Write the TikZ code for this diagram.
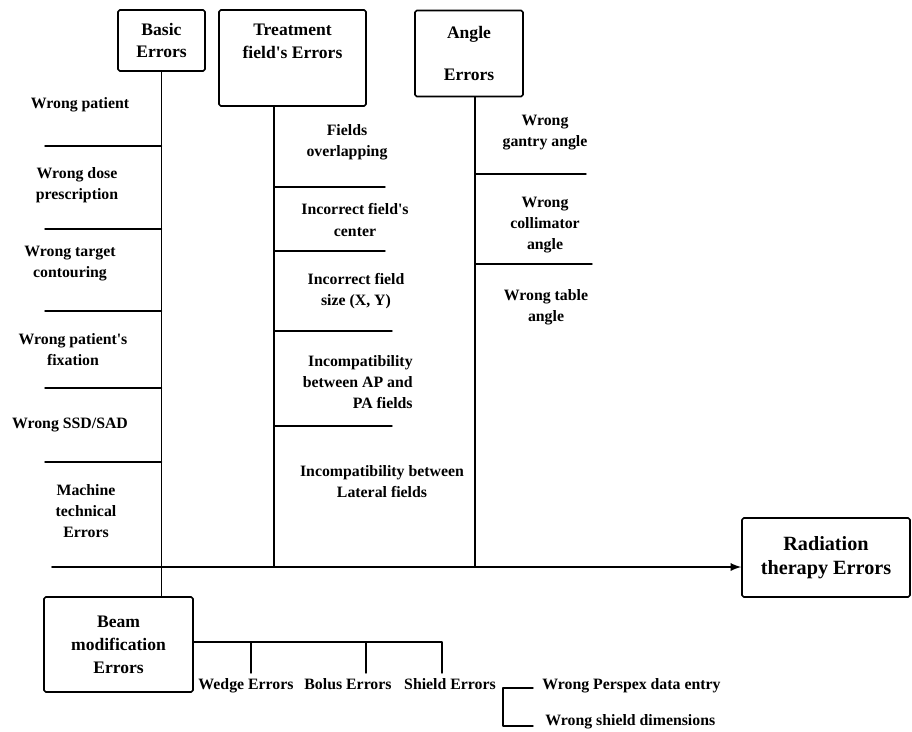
\documentclass[tikz,border=0pt]{standalone}
\usepackage{fontspec}
\setmainfont{Liberation Serif}
\begin{document}
\begin{tikzpicture}[x=0.02cm,y=-0.02cm,line join=round,line cap=round,>=stealth]
	\tikzset{every node/.style={inner sep=0pt,align=center},
		lbl/.style={font=\bfseries\fontsize{9}{12}\selectfont},
		box/.style={draw,line width=0.9pt,rounded corners=1pt,font=\bfseries\fontsize{10}{13}\selectfont},
		rib/.style={line width=0.8pt}}
	\useasboundingbox (0,0) rectangle (912,731);
	% category boxes
	\node[box,minimum width=1.74cm,minimum height=1.22cm] (be) at (161.5,40.5) {Basic\\Errors};
	\node[box,minimum width=2.94cm,minimum height=1.92cm] (tfe) at (292.5,58) {};
	\node[font=\bfseries\fontsize{10}{13}\selectfont] (tft) at (292.5,41.5) {Treatment\\field\textquotesingle s Errors};
	\node[box,minimum width=2.16cm,minimum height=1.72cm] (ae) at (469,53.5) {Angle\\[11pt]Errors};
	\node[box,minimum width=2.98cm,minimum height=1.9cm] (bme) at (118.5,644.5) {Beam\\modification\\Errors};
	\node[box,minimum width=3.36cm,minimum height=1.58cm,font=\bfseries\fontsize{11.5}{14}\selectfont] (rte) at (826,557.5) {Radiation\\therapy Errors};
	% spines
	\coordinate (ax) at (52,567);
	\coordinate (ts) at (274,106);
	\coordinate (as) at (475,97);
	\draw[line width=1.1pt,-latex] (ax) -- (ax -| rte.west);
	\draw[rib] (be.south) -- (be.south |- bme.north);
	\draw[rib] (ts) -- (ts |- ax);
	\draw[rib] (as) -- (as |- ax);
	% ribs
	\foreach \y in {146,229,311,388,462}
	\draw[rib] (be.south |- 0,\y) -- (45,\y);
	\foreach \y/\x in {187/385,251/385,331/392,426/392}
	\draw[rib] (ts |- 0,\y) -- (\x,\y);
	\foreach \y/\x in {174/586,264/592}
	\draw[rib] (as |- 0,\y) -- (\x,\y);
	% basic errors
	\node[lbl] (wp) at (80,105) {Wrong patient};
	\node[lbl] (wdp) at (77,185) {Wrong dose\\prescription};
	\node[lbl] (wtc) at (70,264) {Wrong target\\contouring};
	\node[lbl] (wpf) at (73,350) {Wrong patient\textquotesingle s\\fixation};
	\node[lbl] (wss) at (70,425) {Wrong SSD/SAD};
	\node[lbl] (mte) at (86,511) {Machine\\technical\\Errors};
	% treatment field's errors
	\node[lbl] (fo) at (347,142) {Fields\\overlapping};
	\node[lbl] (ifc) at (355,220) {Incorrect field\textquotesingle s\\center};
	\node[lbl] (ifs) at (356,291) {Incorrect field\\size (X, Y)};
	\node[lbl,align=right,anchor=east] (iap) at (413,382) {Incompatibility\\between AP and\\PA fields};
	\node[lbl] (ilf) at (382,482) {Incompatibility between\\Lateral fields};
	% angle errors
	\node[lbl] (wga) at (545,133) {Wrong\\gantry angle};
	\node[lbl] (wca) at (545,225) {Wrong\\collimator\\angle};
	\node[lbl] (wta) at (546,307) {Wrong table\\angle};
	% beam modification errors
	\node[lbl,anchor=base] (we) at (246,689) {Wedge Errors};
	\node[lbl,anchor=base] (bo) at (348,689) {Bolus Errors};
	\node[lbl,anchor=base] (she) at (450,689) {Shield Errors};
	\coordinate (bb) at (442,673);
	\draw[rib] (bme.east |- 0,642) -- (bb |- 0,642) -- (bb);
	\foreach \x in {251,366}
	\draw[rib] (\x,642) -- (\x,673);
	\node[lbl,anchor=base west] (wpde) at (542,689) {Wrong Perspex data entry};
	\node[lbl,anchor=base west] (wsd) at (545,725) {Wrong shield dimensions};
	\coordinate (sb) at (503,688);
	\draw[rib] ([xshift=-0.18cm]wpde.west |- sb) -- (sb) -- (sb |- 0,726) -- ([xshift=-0.24cm]wsd.west |- 0,726);
\end{tikzpicture}
\end{document}
